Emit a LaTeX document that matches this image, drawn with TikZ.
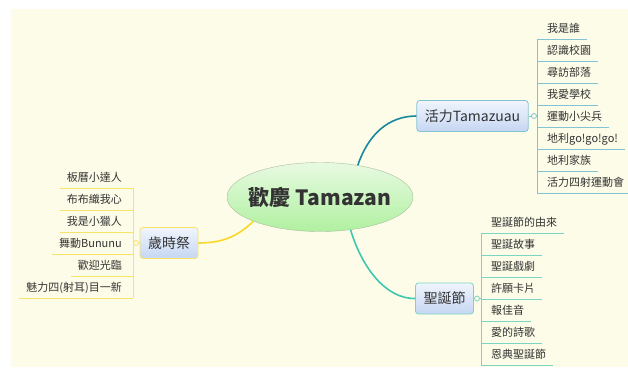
\documentclass[tikz,border=0pt]{standalone}
\usepackage{fontspec}
\setmainfont{Noto Sans CJK TC}
\usetikzlibrary{calc,shapes.geometric}
\definecolor{paper}{RGB}{253,252,232}
\definecolor{ink}{RGB}{51,51,51}
\definecolor{tealA}{RGB}{24,136,158}
\definecolor{tealAlight}{RGB}{130,196,212}
\definecolor{tealB}{RGB}{62,200,176}
\definecolor{tealBlight}{RGB}{122,214,194}
\definecolor{sun}{RGB}{250,216,40}
\definecolor{sunlight}{RGB}{248,226,104}
\definecolor{topichi}{RGB}{240,245,253}
\definecolor{topiclo}{RGB}{198,214,242}
\definecolor{rootedge}{RGB}{168,190,160}
\definecolor{roothi}{RGB}{232,250,226}
\definecolor{rootlo}{RGB}{176,240,160}
\tikzset{
	topic/.style={draw=#1, rounded corners=3pt, top color=topichi, bottom color=topiclo, text=ink,
		font=\fontsize{14}{16}\selectfont, minimum height=31pt, inner xsep=8pt, line width=0.8pt},
	leaf/.style={text=ink, font=\fontsize{11}{13}\selectfont, inner xsep=7pt, inner ysep=1pt},
	knob/.style={draw=#1, fill=paper, line width=0.8pt},
	twig/.style={draw=#1, line width=0.8pt},
	bough/.style={draw=#1, line width=1.6pt},
}

\begin{document}
\begin{tikzpicture}[x=1pt, y=-1pt]
		%%%%% START %%%%%
		
		\useasboundingbox (0, 0) rectangle (628, 367);
		\fill[paper] (11, 9) rectangle (628, 367);
		
		\node[ellipse, draw=rootedge, top color=roothi, bottom color=rootlo, minimum width=186pt, minimum height=69pt, inner sep=0pt, text=ink, font=\fontsize{21}{24}\selectfont\bfseries] (root) at (320, 197) {\makebox[0pt]{歡慶 Tamazan}};
		
		\node[topic=tealAlight] (lively) at (472.5, 116) {活力Tamazuau};
		\node[topic=tealBlight] (xmas) at (444.5, 298.5) {聖誕節};
		\node[topic=sunlight] (season) at (169, 243) {歲時祭};
		
		\draw[bough=tealA] (root.40) .. controls (368, 135) and (388, 116) .. (lively.west);
		\draw[bough=tealB] (root.-47) .. controls (362, 268) and (386, 299) .. (xmas.west);
		\draw[bough=sun] (root.200) .. controls (240, 234) and (226, 243) .. (season.east);
		
		% 活力Tamazuau
		\draw[twig=tealAlight] (lively.east) -- (537, 116);
		\draw[twig=tealAlight] (537, 39) -- (537, 193);
		\draw[knob=tealAlight] (534, 116) circle (2.5);
		\foreach \t [count=\i, evaluate=\i as \y using 39+22*(\i-1)] in {我是誰,認識校園,尋訪部落,我愛學校,運動小尖兵,地利go!go!go!,地利家族,活力四射運動會}{
			\node[leaf, anchor=base west] (lv\i) at (540, \y-6.5) {\t};
			\draw[twig=tealAlight] (537, \y) -- (lv\i.east |- 0, \y);
		}
		
		% 聖誕節
		\draw[twig=tealBlight] (xmas.east) -- (481, 298.5);
		\draw[twig=tealBlight] (481, 233) -- (481, 365);
		\draw[knob=tealBlight] (477, 298.5) circle (2.5);
		\foreach \t [count=\i, evaluate=\i as \y using 233+22*(\i-1)] in {聖誕節的由來,聖誕故事,聖誕戲劇,許願卡片,報佳音,愛的詩歌,恩典聖誕節}{
			\node[leaf, anchor=base west] (xm\i) at (484, \y-6.5) {\t};
			\draw[twig=tealBlight] (481, \y) -- (xm\i.east |- 0, \y);
		}
		
		% 歲時祭
		\draw[twig=sunlight] (season.west) -- (133, 243);
		\draw[twig=sunlight] (133, 188) -- (133, 298);
		\draw[knob=sunlight] (136, 243) circle (2.5);
		\foreach \t [count=\i, evaluate=\i as \y using 188+22*(\i-1)] in {板曆小達人,布布織我心,我是小獵人,舞動Bununu,歡迎光臨,魅力四(射耳)目一新}{
			\node[leaf, anchor=base east] (ss\i) at (129, \y-6.5) {\t};
			\draw[twig=sunlight] (133, \y) -- (ss\i.west |- 0, \y);
		}
		
		%%%%% END %%%%%
	\end{tikzpicture}
\end{document}
